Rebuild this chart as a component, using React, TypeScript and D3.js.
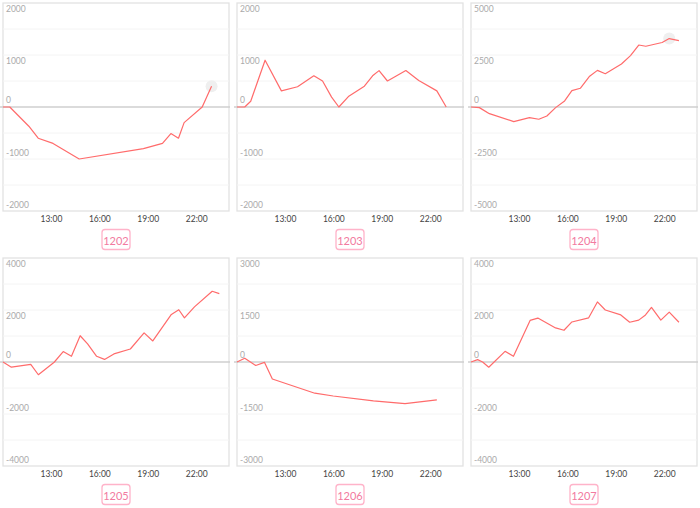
import React from "react";
import * as d3 from "d3";

// ---- data (hours of day, value) ----
const codes = ["1202", "1203", "1204", "1205", "1206", "1207"];
const yMax = [2000, 2000, 5000, 4000, 3000, 4000];

const t1202 = [10, 10.42, 11.6, 12.18, 13.1, 14.72, 18.7, 19.88, 20.4, 20.87, 21.22, 22.34, 22.92];
const v1202 = [0, 0, -370, -600, -700, -1000, -800, -700, -510, -600, -300, 0, 400];

const t1203 = [10, 10.48, 10.85, 11.74, 12.75, 13.75, 14.76, 15.3, 15.86, 16.31, 16.9, 17.89, 18.4, 18.8, 19.32, 20.46, 21.26, 22.38, 22.96];
const v1203 = [0, 0, 110, 900, 310, 390, 600, 500, 190, 0, 200, 400, 600, 700, 500, 700, 510, 310, 0];

const t1204 = [10, 10.52, 11.14, 12.65, 13.62, 14.2, 14.7, 15.24, 15.8, 16.25, 16.77, 17.35, 17.83, 18.32, 19.32, 19.88, 20.39, 20.83, 21.84, 22.28, 22.88];
const v1204 = [0, -30, -320, -700, -510, -590, -430, -30, 290, 790, 900, 1480, 1760, 1600, 2070, 2470, 2980, 2920, 3100, 3290, 3190];

const t1205 = [10, 10.52, 11.72, 12.19, 13.17, 13.73, 14.24, 14.78, 15.24, 15.8, 16.29, 16.87, 17.89, 18.74, 19.28, 20.43, 20.89, 21.24, 21.86, 22.96, 23.4];
const v1205 = [0, -200, -90, -490, -10, 400, 220, 1010, 700, 220, 100, 310, 500, 1120, 810, 1830, 2010, 1700, 2120, 2720, 2630];

const t1206 = [10, 10.48, 11.16, 11.7, 12.19, 14.82, 15.96, 18.45, 20.41, 22.38];
const v1206 = [0, 110, -100, -10, -490, -900, -980, -1120, -1200, -1090];

const t1207 = [10, 10.41, 10.72, 11.1, 12.11, 12.63, 13.66, 14.14, 15.24, 15.76, 16.25, 17.29, 17.83, 18.32, 19.28, 19.83, 20.39, 20.81, 21.18, 21.76, 22.28, 22.88];
const v1207 = [0, 90, 0, -200, 410, 220, 1600, 1690, 1310, 1220, 1540, 1700, 2310, 2000, 1810, 1530, 1610, 1810, 2100, 1610, 1920, 1530];

const highlightIndex = [12, -1, 19, -1, -1, -1];

const xTickValues = [13, 16, 19, 22];
const xTickLabels = ["13:00", "16:00", "19:00", "22:00"];
const timeDomain = [10, 24];

const seriesTimes = [t1202, t1203, t1204, t1205, t1206, t1207];
const seriesValues = [v1202, v1203, v1204, v1205, v1206, v1207];

// ---- layout ----
const W = 700;
const H = 508;
const colLeft = [3, 237, 471];
const rowTop = [3, 258];
const pw = 226;
const ph = 208;
const labelDy = [5.5, 6, -7, -6, -6];
const FONT = "Lato, 'Open Sans', sans-serif";

function Panel({ idx }: { idx: number }) {
  const left = colLeft[idx % 3];
  const top = rowTop[Math.floor(idx / 3)];
  const m = yMax[idx];
  const x = d3.scaleLinear().domain(timeDomain).range([left, left + pw]);
  const y = d3.scaleLinear().domain([-m, m]).range([top + ph, top]);
  const times = seriesTimes[idx];
  const vals = seriesValues[idx];
  const pts = times.map((t, i) => [t, vals[i]] as [number, number]);
  const line = d3
    .line<[number, number]>()
    .x((d) => x(d[0]))
    .y((d) => y(d[1]));
  const grid = d3.range(-m, m + 1, m / 4);
  const labels = [m, m / 2, 0, -m / 2, -m];
  const hi = highlightIndex[idx];
  const cx = left + pw / 2;
  const badgeY = top + ph + 28.5;
  return (
    <g>
      <rect x={left} y={top} width={pw} height={ph} fill="#fff" stroke="#e2e2e2" strokeWidth={1.3} />
      {grid
        .filter((g) => g !== 0 && Math.abs(g) !== m)
        .map((g) => (
          <line key={g} x1={left} x2={left + pw} y1={y(g)} y2={y(g)} stroke="#f4f4f4" strokeWidth={1} />
        ))}
      <line x1={left - 3} x2={left + pw + 1} y1={y(0)} y2={y(0)} stroke="#cfcfcf" strokeWidth={1.5} />
      {labels.map((l, i) => (
        <text
          key={i}
          x={left + 3}
          y={y(l) + labelDy[i]}
          dominantBaseline="central"
          fontSize={8.5}
          fill="#aaa"
          fontFamily={FONT}
        >
          {l}
        </text>
      ))}
      {hi >= 0 && <circle cx={x(times[hi])} cy={y(vals[hi])} r={6} fill="#efefef" />}
      <path d={line(pts) || ""} fill="none" stroke="#ff6b6b" strokeWidth={1.2} strokeLinejoin="round" />
      {xTickValues.map((t, i) => (
        <text
          key={t}
          x={x(t)}
          y={top + ph + 7.5}
          textAnchor="middle"
          dominantBaseline="central"
          fontSize={8.5}
          fill="#444"
          fontFamily={FONT}
        >
          {xTickLabels[i]}
        </text>
      ))}
      <rect x={cx - 14} y={badgeY - 10} width={28} height={20} rx={3} fill="#fff" stroke="#ffb3c9" strokeWidth={1.3} />
      <text
        x={cx}
        y={badgeY + 0.5}
        textAnchor="middle"
        dominantBaseline="central"
        fontSize={11}
        fill="#f27aa0"
        fontFamily={FONT}
      >
        {codes[idx]}
      </text>
    </g>
  );
}

export default function App() {
  return (
    <svg
      width={W}
      height={H}
      style={{ position: "absolute", left: 0, top: 0, background: "#fff" }}
    >
      {codes.map((c, i) => (
        <Panel key={c} idx={i} />
      ))}
    </svg>
  );
}
